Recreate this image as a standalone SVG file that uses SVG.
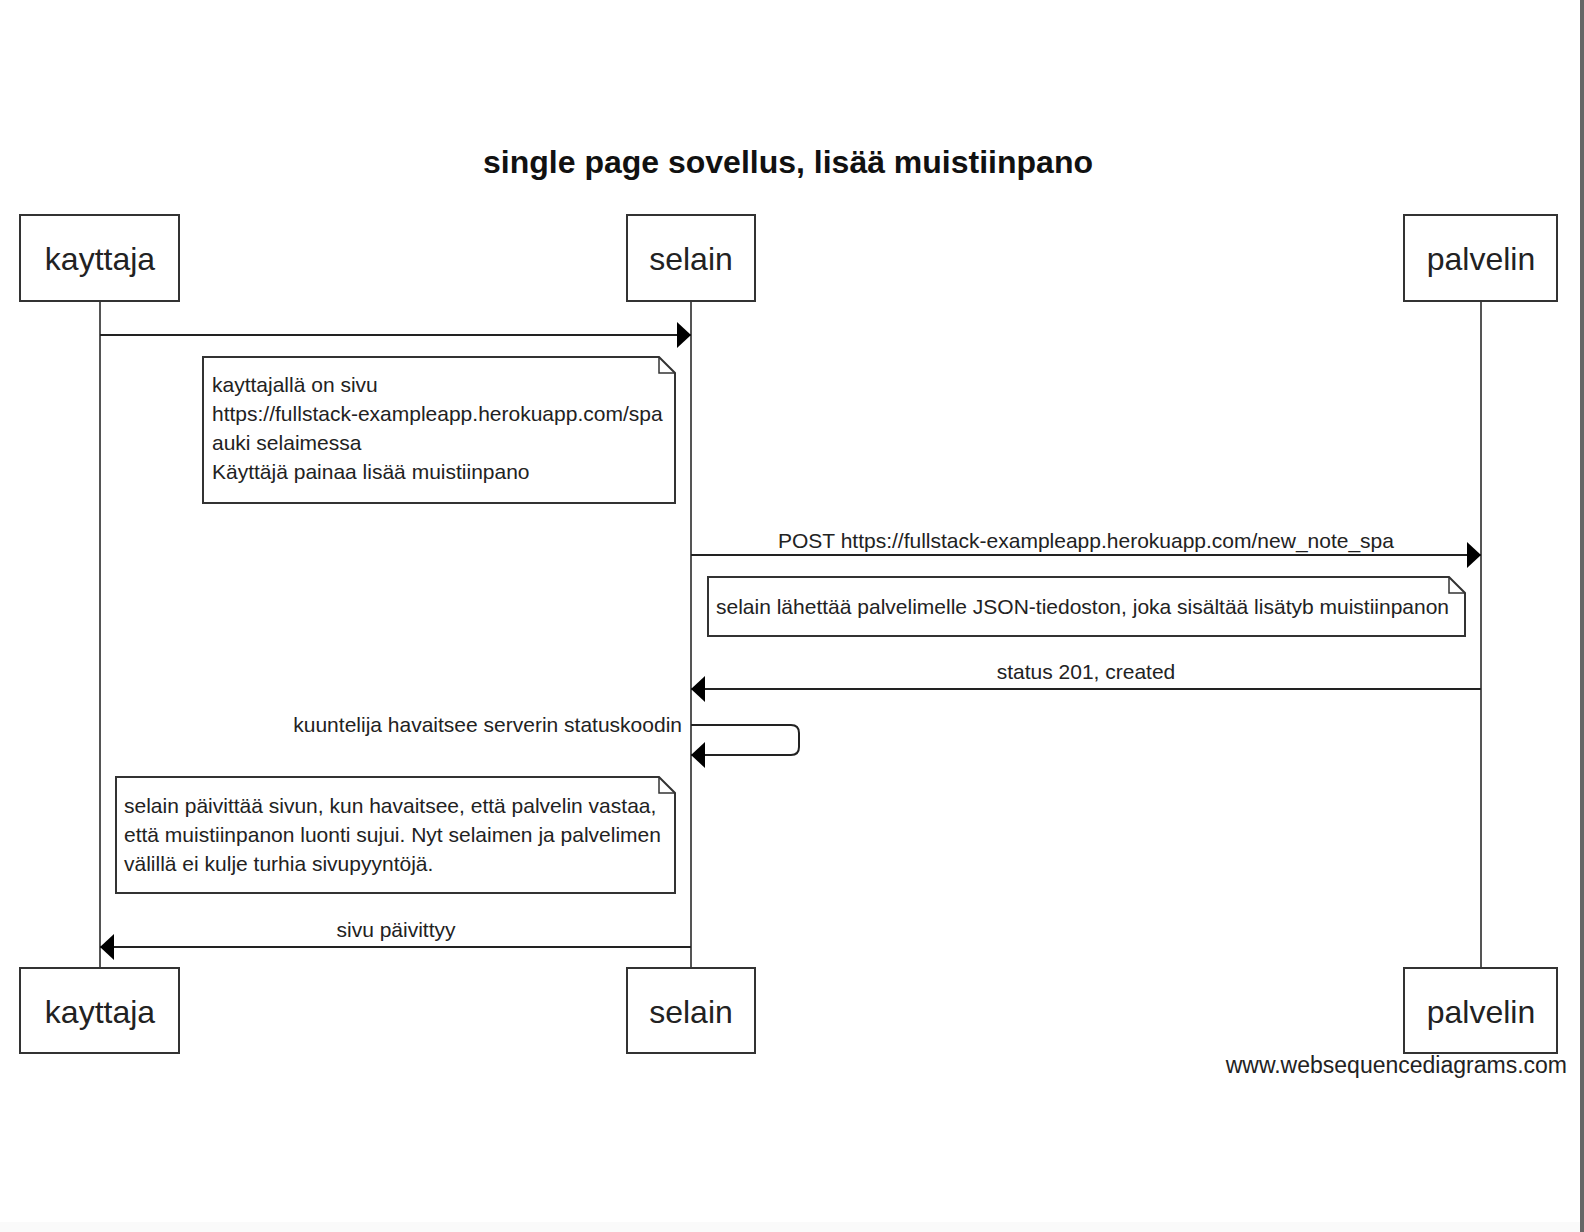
<svg xmlns="http://www.w3.org/2000/svg" width="1584" height="1232" viewBox="0 0 1584 1232">
<defs>
<style>
.box{fill:#fff;stroke:#333;stroke-width:2}
.life{stroke:#555;stroke-width:2;fill:none}
.msg{stroke:#222;stroke-width:2;fill:none}
.note{fill:#fff;stroke:#333;stroke-width:2}
.fold{fill:none;stroke:#333;stroke-width:1.5}
.pl{font-family:"Liberation Sans",Arial,sans-serif;font-size:32px;fill:#222;text-anchor:middle}
.t{font-family:"Liberation Sans",Arial,sans-serif;font-size:21px;fill:#222}
.title{font-family:"Liberation Sans",Arial,sans-serif;font-size:32px;font-weight:bold;fill:#111;text-anchor:middle}
</style>
<marker id="ah" viewBox="0 0 14 26" refX="14" refY="13" markerWidth="14" markerHeight="26" orient="auto" markerUnits="userSpaceOnUse">
<path d="M0,0 L14,13 L0,26 Z" fill="#000"/>
</marker>
</defs>
<rect x="0" y="0" width="1584" height="1232" fill="#fff"/>
<rect x="0" y="1222" width="1580" height="10" fill="#fafafa"/>
<rect x="1580" y="0" width="4" height="1232" fill="#666"/>

<text class="title" x="788" y="173">single page sovellus, lisää muistiinpano</text>

<g id="lifelines">
<line class="life" x1="100" y1="301" x2="100" y2="968"/>
<line class="life" x1="691" y1="301" x2="691" y2="968"/>
<line class="life" x1="1481" y1="301" x2="1481" y2="968"/>
</g>

<g id="kayttaja">
<rect class="box" x="20" y="215" width="159" height="86"/>
<text class="pl" x="100" y="270">kayttaja</text>
</g>
<g id="selain">
<rect class="box" x="627" y="215" width="128" height="86"/>
<text class="pl" x="691" y="270">selain</text>
</g>
<g id="palvelin">
<rect class="box" x="1404" y="215" width="153" height="86"/>
<text class="pl" x="1481" y="270">palvelin</text>
</g>
<g id="kayttaja-bottom">
<rect class="box" x="20" y="968" width="159" height="85"/>
<text class="pl" x="100" y="1023">kayttaja</text>
</g>
<g id="selain-bottom">
<rect class="box" x="627" y="968" width="128" height="85"/>
<text class="pl" x="691" y="1023">selain</text>
</g>
<g id="palvelin-bottom">
<rect class="box" x="1404" y="968" width="153" height="85"/>
<text class="pl" x="1481" y="1023">palvelin</text>
</g>

<g id="note1">
<path class="note" d="M203,357 H659 L675,373 V503 H203 Z"/>
<path class="fold" d="M659,357 V373 H675"/>
<text class="t" x="212" y="392">kayttajallä on sivu</text>
<text class="t" x="212" y="421">https://fullstack-exampleapp.herokuapp.com/spa</text>
<text class="t" x="212" y="450">auki selaimessa</text>
<text class="t" x="212" y="479">Käyttäjä painaa lisää muistiinpano</text>
</g>

<g id="note2">
<path class="note" d="M708,577 H1449 L1465,593 V636 H708 Z"/>
<path class="fold" d="M1449,577 V593 H1465"/>
<text class="t" x="716" y="614">selain lähettää palvelimelle JSON-tiedoston, joka sisältää lisätyb muistiinpanon</text>
</g>

<g id="note3">
<path class="note" d="M116,777 H659 L675,793 V893 H116 Z"/>
<path class="fold" d="M659,777 V793 H675"/>
<text class="t" x="124" y="813">selain päivittää sivun, kun havaitsee, että palvelin vastaa,</text>
<text class="t" x="124" y="842">että muistiinpanon luonti sujui. Nyt selaimen ja palvelimen</text>
<text class="t" x="124" y="871">välillä ei kulje turhia sivupyyntöjä.</text>
</g>

<g id="connectors">
<line class="msg" x1="100" y1="335" x2="691" y2="335" marker-end="url(#ah)"/>
<line class="msg" x1="691" y1="555" x2="1481" y2="555" marker-end="url(#ah)"/>
<text class="t" x="1086" y="548" text-anchor="middle">POST https://fullstack-exampleapp.herokuapp.com/new_note_spa</text>
<line class="msg" x1="1481" y1="689" x2="691" y2="689" marker-end="url(#ah)"/>
<text class="t" x="1086" y="679" text-anchor="middle">status 201, created</text>
<path class="msg" d="M691,725 H791 Q799,725 799,733 V747 Q799,755 791,755 H691" marker-end="url(#ah)"/>
<text class="t" x="682" y="732" text-anchor="end">kuuntelija havaitsee serverin statuskoodin</text>
<line class="msg" x1="691" y1="947" x2="100" y2="947" marker-end="url(#ah)"/>
<text class="t" x="396" y="937" text-anchor="middle">sivu päivittyy</text>
</g>

<text class="t" x="1567" y="1073" text-anchor="end" style="font-size:23px">www.websequencediagrams.com</text>
</svg>
